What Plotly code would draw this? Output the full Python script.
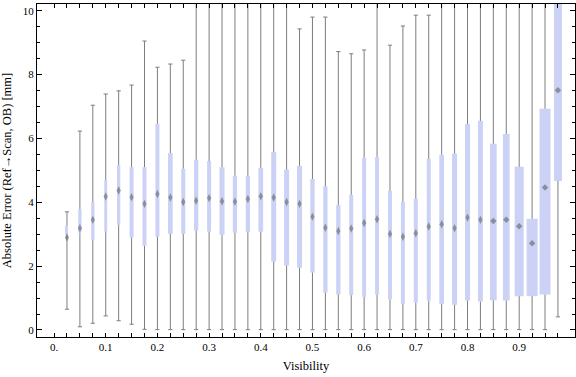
import plotly.graph_objects as go

# ---- data ----
visibility = [0.025, 0.05, 0.075, 0.1, 0.125, 0.15, 0.175, 0.2, 0.225, 0.25,
              0.275, 0.3, 0.325, 0.35, 0.375, 0.4, 0.425, 0.45, 0.475, 0.5,
              0.525, 0.55, 0.575, 0.6, 0.625, 0.65, 0.675, 0.7, 0.725, 0.75,
              0.775, 0.8, 0.825, 0.85, 0.875, 0.9, 0.925, 0.95, 0.975]

whisker_min = [0.65, 0.10, 0.21, 0.44, 0.29, 0.18, 0.02, 0.01, 0.01, 0.01,
               0.01, 0.01, 0.01, 0.01, 0.01, 0.01, 0.01, 0.01, 0.01, 0.01,
               0.01, 0.01, 0.01, 0.01, 0.01, 0.01, 0.01, 0.01, 0.01, 0.01,
               0.01, 0.01, 0.01, 0.01, 0.01, 0.01, 0.01, 0.01, 0.41]

q1 = [2.98, 3.05, 2.82, 3.09, 3.30, 2.89, 2.64, 2.92, 3.01, 3.01,
      3.11, 3.08, 2.98, 3.05, 3.06, 3.08, 2.14, 2.02, 1.95, 1.80,
      1.17, 1.11, 1.09, 1.04, 1.11, 0.96, 0.81, 0.86, 0.92, 0.82,
      0.79, 0.92, 0.89, 0.93, 0.92, 1.06, 1.06, 1.11, 4.67]

median = [2.90, 3.19, 3.45, 4.18, 4.37, 4.16, 3.95, 4.26, 4.15, 4.01,
          4.05, 4.13, 4.03, 4.02, 4.10, 4.19, 4.15, 4.01, 3.95, 3.55,
          3.20, 3.10, 3.18, 3.35, 3.47, 3.01, 2.92, 3.03, 3.24, 3.31,
          3.19, 3.52, 3.45, 3.41, 3.45, 3.25, 2.72, 4.46, 7.51]

q3 = [3.27, 3.78, 4.01, 4.70, 5.17, 5.10, 5.10, 6.46, 5.54, 5.05,
      5.33, 5.29, 5.10, 4.83, 4.83, 5.08, 5.58, 5.02, 5.14, 4.73,
      4.50, 3.91, 4.23, 5.39, 5.42, 4.36, 4.01, 4.11, 5.36, 5.49,
      5.52, 6.45, 6.55, 5.83, 6.14, 5.11, 3.48, 6.93, 10.8]

whisker_max = [3.70, 6.23, 7.04, 7.39, 7.49, 7.67, 9.05, 8.23, 8.33, 8.45,
               10.8, 10.8, 10.27, 10.8, 10.8, 10.8, 10.3, 10.8, 9.43, 9.80,
               9.80, 8.72, 8.65, 8.77, 10.8, 8.92, 9.52, 9.86, 9.86, 10.8,
               10.8, 10.8, 10.8, 10.8, 10.8, 10.8, 10.8, 10.8, 11.5]

x_tick_values = [0.0, 0.1, 0.2, 0.3, 0.4, 0.5, 0.6, 0.7, 0.8, 0.9]
x_tick_labels = ["0.", "0.1", "0.2", "0.3", "0.4", "0.5", "0.6", "0.7", "0.8", "0.9"]
y_tick_values = [0, 2, 4, 6, 8, 10]

# ---- styling ----
box_width_px = [2.0, 3.3, 3.3, 3.0, 3.3, 4.0, 4.0, 4.0, 4.7, 4.0,
                4.3, 4.0, 5.0, 4.3, 4.3, 4.7, 5.0, 5.0, 5.0, 4.3,
                4.3, 4.3, 4.0, 4.0, 4.0, 4.0, 4.0, 4.0, 4.0, 4.7,
                5.0, 5.0, 5.0, 6.7, 6.7, 9.0, 11.0, 11.0, 8.0]
PX_PER_UNIT = 517.5
BOX_COLOR = "rgb(203,210,245)"
WHISKER_COLOR = "rgb(125,125,125)"
MEDIAN_COLOR = "rgba(95,95,95,0.85)"
FONT = "Liberation Serif"

fig = go.Figure()

# boxes (interquartile range)
fig.add_trace(go.Bar(
    x=visibility,
    base=q1,
    y=[b - a for a, b in zip(q1, q3)],
    width=[w / PX_PER_UNIT for w in box_width_px],
    marker=dict(color=BOX_COLOR, line=dict(width=0)),
    hoverinfo="skip",
    showlegend=False,
))

# whiskers: two segments per box, outside the box
wx, wy = [], []
for x, lo, a, b, hi in zip(visibility, whisker_min, q1, q3, whisker_max):
    wx += [x, x, None, x, x, None]
    wy += [lo, a, None, b, hi, None]
fig.add_trace(go.Scatter(
    x=wx, y=wy, mode="lines",
    line=dict(color=WHISKER_COLOR, width=1),
    hoverinfo="skip", showlegend=False,
))

# whisker caps
fig.add_trace(go.Scatter(
    x=visibility + visibility,
    y=whisker_min + whisker_max,
    mode="markers",
    marker=dict(symbol="line-ew", size=3,
                line=dict(color=WHISKER_COLOR, width=1)),
    hoverinfo="skip", showlegend=False,
))

# medians
fig.add_trace(go.Scatter(
    x=visibility, y=median, mode="markers",
    marker=dict(
        symbol=["diamond" if w > 6 else "diamond-tall" for w in box_width_px],
        size=[5 if w > 6 else 6 for w in box_width_px],
        color=MEDIAN_COLOR, line=dict(width=0)),
    hoverinfo="skip", showlegend=False,
))

fig.update_layout(
    width=576, height=377,
    margin=dict(l=37, r=1, t=4, b=40, autoexpand=False),
    paper_bgcolor="white", plot_bgcolor="white",
    barmode="overlay",
    font=dict(family=FONT, size=11, color="black"),
    showlegend=False,
)

fig.update_xaxes(
    range=[-0.033, 1.008], automargin=False,
    tickmode="array", tickvals=x_tick_values, ticktext=x_tick_labels,
    ticks="inside", ticklen=4, tickwidth=1, tickcolor="black",
    minor=dict(tickmode="array", tickvals=visibility, ticks="inside",
               ticklen=4, tickwidth=1, tickcolor="black"),
    showline=True, linecolor="black", linewidth=1, mirror="ticks",
    showgrid=False, zeroline=False,
    tickfont=dict(family=FONT, size=11),
    title=dict(text="Visibility", font=dict(family=FONT, size=12.5), standoff=9),
)

fig.update_yaxes(
    range=[-0.22, 10.21], automargin=False,
    tickmode="array", tickvals=y_tick_values,
    ticks="inside", ticklen=5, tickwidth=1, tickcolor="black",
    minor=dict(dtick=0.5, tick0=0, ticks="inside", ticklen=3,
               tickwidth=1, tickcolor="black"),
    showline=True, linecolor="black", linewidth=1, mirror="ticks",
    showgrid=False, zeroline=False,
    tickfont=dict(family=FONT, size=11),
    title=dict(text="Absolute Error (Ref\u2192Scan, OB) [mm]",
               font=dict(family=FONT, size=12.5), standoff=9),
)

fig.write_html(
    "out.html",
    config={"displayModeBar": False},
    post_script="document.body.style.margin='0';document.body.style.padding='0';",
)
